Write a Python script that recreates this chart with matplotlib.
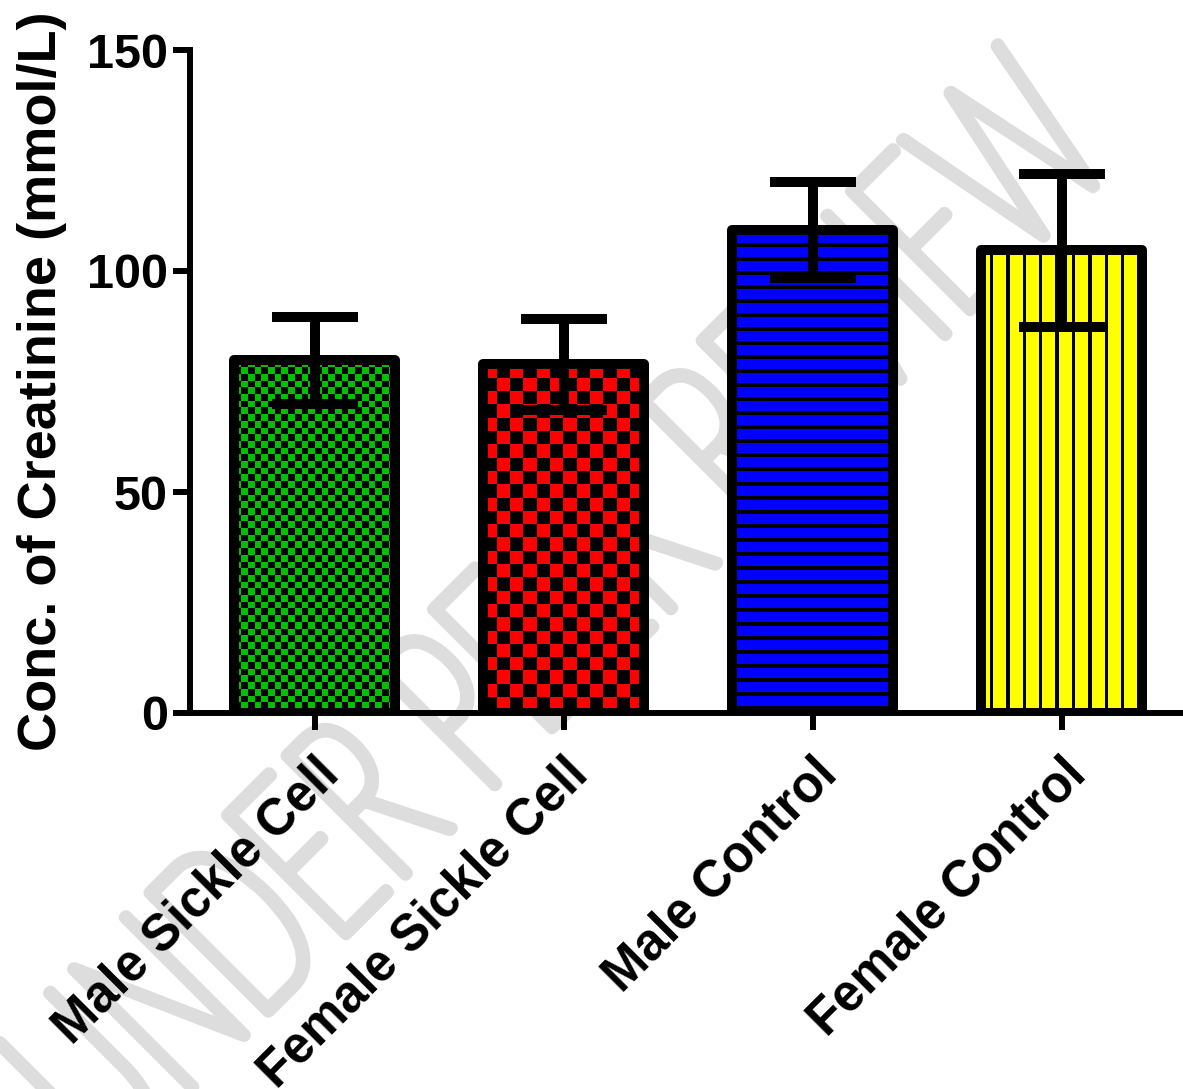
import numpy as np
import matplotlib
matplotlib.use("Agg")
import matplotlib.pyplot as plt
from matplotlib.textpath import TextPath
from matplotlib.patches import PathPatch
from matplotlib.font_manager import FontProperties
from matplotlib.transforms import Affine2D

groups = ["Male Sickle Cell", "Female Sickle Cell", "Male Control", "Female Control"]
means = [79.8, 78.9, 109.3, 104.7]
sds = [9.8, 10.3, 10.8, 17.3]
fills = ["#00c000", "#ff0000", "#0000ff", "#ffff00"]
patterns = ["check_small", "check_large", "hlines", "vlines"]
yticks = [0, 50, 100, 150]
watermark = "UNDER PEER REVIEW"

W, H = 1183, 1089
FONT = "Liberation Sans"


def make_pattern(kind, color, w_px, h_px):
    rgb = np.array(matplotlib.colors.to_rgb(color))
    yy, xx = np.indices((h_px, w_px))
    if kind == "check_small":
        mask = ((xx // 6.7).astype(int) + (yy // 6.7).astype(int)) % 2 == 0
    elif kind == "check_large":
        mask = ((xx // 13.3).astype(int) + (yy // 13.3).astype(int)) % 2 == 0
    elif kind == "hlines":
        mask = (yy % 14) >= 4
    else:
        mask = ((xx + 8) % 16.4) >= 3.4
    arr = np.zeros((h_px, w_px, 3))
    arr[mask] = rgb
    return arr


fig = plt.figure(figsize=(W / 100, H / 100), dpi=100)
ax = fig.add_axes([190 / W, 1 - 713 / H, 996 / W, 663 / H])
ax.patch.set_alpha(0)

# watermark: condensed text along the diagonal, behind everything
fp = FontProperties(family="Lato", weight=200)
tp = TextPath((0, 0), watermark, size=100, prop=fp)
e_box = TextPath((0, 0), "E", size=100, prop=fp).get_extents()
e_left = TextPath((0, 0), watermark[:4], size=100, prop=fp).get_extents().xmax - e_box.width
full_right = tp.get_extents().xmax
sx = 1090 / (full_right - e_left)
sy = 168 / e_box.ymax
wm_tr = (Affine2D().translate(-e_left, 0).scale(sx, sy).rotate_deg(45)
         .translate(346, H - 934).scale(1 / 100) + fig.dpi_scale_trans)
wm = PathPatch(tp, transform=wm_tr, facecolor="#dddddd", edgecolor="#dddddd",
               linewidth=9, joinstyle="round", capstyle="round", zorder=-5)
fig.add_artist(wm)

x = np.arange(len(groups))
width = 0.65
bars = ax.bar(x, means, width=width, color=fills, linewidth=0, zorder=2)

xlim = (-0.5, 3.5)
ylim = (0, 150)
px_x = 996 / (xlim[1] - xlim[0])
px_y = 663 / (ylim[1] - ylim[0])
for b, kind, col in zip(bars, patterns, fills):
    x0, h = b.get_x(), b.get_height()
    arr = make_pattern(kind, col, int(round(width * px_x)), int(round(h * px_y)))
    im = ax.imshow(arr, extent=(x0, x0 + width, 0, h), interpolation="nearest",
                   aspect="auto", zorder=2.5)
    im.set_clip_path(b)

ax.bar(x, means, width=width, facecolor="none", edgecolor="black",
       linewidth=7.2, joinstyle="round", zorder=3)
ax.errorbar(x, means, yerr=sds, fmt="none", ecolor="black", elinewidth=7.2,
            capsize=31, capthick=7.2, zorder=4)

ax.set_xlim(*xlim)
ax.set_ylim(*ylim)
for s in ["top", "right"]:
    ax.spines[s].set_visible(False)
for s in ["left", "bottom"]:
    ax.spines[s].set_linewidth(4.3)
    ax.spines[s].set_capstyle("projecting")

ax.set_yticks(yticks)
ax.set_yticklabels([str(t) for t in yticks], fontsize=35, fontweight="bold", family=FONT)
ax.set_xticks(x)
ax.set_xticklabels(groups, rotation=45, ha="right", va="top", rotation_mode="anchor",
                   fontsize=36.5, fontweight="bold", family=FONT)
ax.tick_params(axis="both", width=4.3, length=12, direction="out")
ax.tick_params(axis="y", pad=4)
ax.tick_params(axis="x", pad=14)
ax.set_ylabel("Conc. of Creatinine (mmol/L)", fontsize=39, fontweight="bold",
              family=FONT, labelpad=14)

fig.savefig("out.png", dpi=100)
